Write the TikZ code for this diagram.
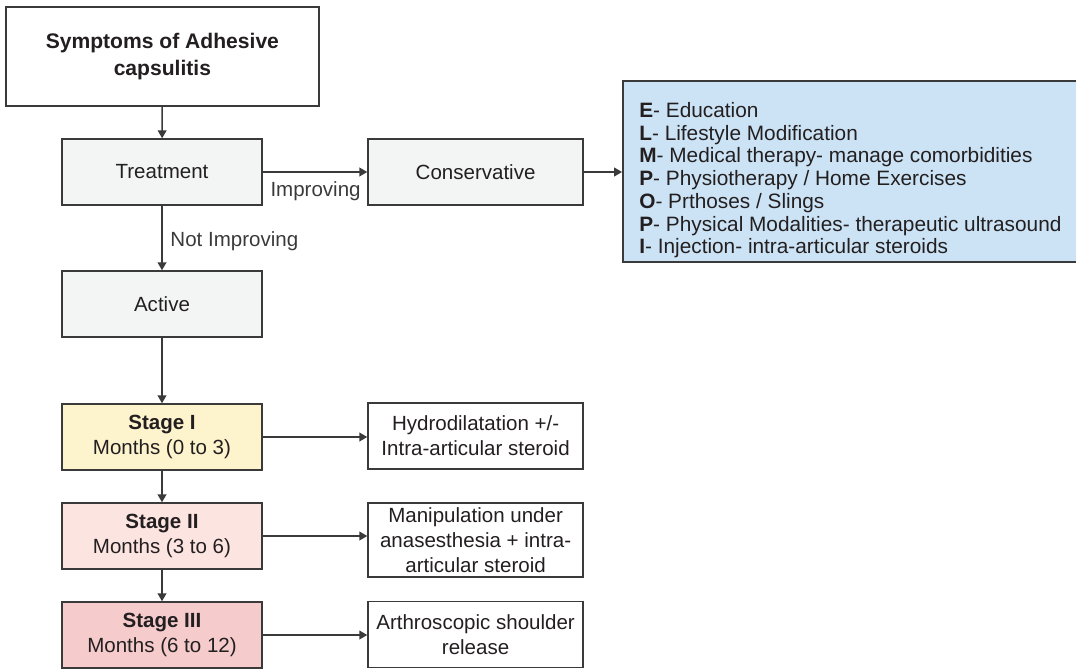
\documentclass[tikz,border=0pt]{standalone}
\usepackage{fontspec}
\setmainfont{Liberation Sans}
\usetikzlibrary{positioning, arrows.meta, calc}
\usepackage{xcolor}
\definecolor{fcink}{HTML}{231F20}
\definecolor{fcline}{HTML}{3A3A3A}
\definecolor{fcgray}{HTML}{F3F5F4}
\definecolor{fcyellow}{HTML}{FDF3CD}
\definecolor{fcpink}{HTML}{FCE4E0}
\definecolor{fcrose}{HTML}{F5CBCC}
\definecolor{fcblue}{HTML}{CCE3F5}

\begin{document}
\begin{tikzpicture}[font=\fontsize{14.6}{18}\selectfont, text=fcink,
    box/.style={draw=fcline, line width=1.05pt, fill=white, align=center, inner sep=2pt,
                minimum width=5cm, minimum height=1.65cm},
    opt/.style={box, minimum width=5.38cm},
    arr/.style={fcline, line width=1.05pt, -{Triangle[length=5.6pt, width=6.2pt]}}]
    \useasboundingbox (0,0) rectangle (26.9,16.7);
    % main column
    \node[box, minimum width=7.83cm, minimum height=2.48cm,
          font=\fontsize{15}{19}\selectfont\bfseries] (sym) at (4.06,15.29) {Symptoms of Adhesive\\capsulitis};
    \node[box, fill=fcgray] (trt) at (4.05,12.4)  {Treatment};
    \node[opt, fill=fcgray] (con) at (11.89,12.4) {Conservative};
    \node[box, fill=fcgray] (act) at (4.05,9.1)   {Active};
    \node[draw=fcline, line width=1.05pt, fill=fcblue, align=left, inner sep=2pt,
          minimum width=11.38cm, minimum height=4.53cm,
          font=\fontsize{14.8}{16.2}\selectfont] (epi) at (21.26,12.41)
      {\rule{0pt}{1.56em}\textbf{E}- Education\\
       \textbf{L}- Lifestyle Modification\\
       \textbf{M}- Medical therapy- manage comorbidities\\
       \textbf{P}- Physiotherapy / Home Exercises\\
       \textbf{O}- Prthoses / Slings\\
       \textbf{P}- Physical Modalities- therapeutic ultrasound\\
       \textbf{I}- Injection- intra-articular steroids};
    % stages and their procedures
    \node[box, fill=fcyellow] (s1) at (4.05,5.775) {\textbf{Stage I}\\Months (0 to 3)};
    \node[box, fill=fcpink]   (s2) at (4.05,3.3)   {\textbf{Stage II}\\Months (3 to 6)};
    \node[box, fill=fcrose]   (s3) at (4.05,0.825) {\textbf{Stage III}\\Months (6 to 12)};
    \node[opt] (hyd) at (11.89,5.8)  {Hydrodilatation +/-\\Intra-articular steroid};
    \node[opt, minimum height=1.85cm] (man) at (11.89,3.2)
      {Manipulation under\\anasesthesia + intra-\\articular steroid};
    \node[opt] (art) at (11.89,0.84) {Arthroscopic shoulder\\release};

    \draw[arr] (sym) -- (trt);
    \draw[arr] (trt.east) -- (trt.east -| con.west)
      node[pos=0, anchor=north west, inner xsep=5pt, inner ysep=6pt] {Improving};
    \draw[arr] (con.east) -- (con.east -| epi.west);
    \draw[arr] (trt) -- (act)
      node[midway, anchor=west, inner xsep=5.5pt, yshift=-2pt] {Not Improving};
    \draw[arr] (act) -- (s1);
    \draw[arr] (s1) -- (s2);
    \draw[arr] (s2) -- (s3);
    \draw[arr] (s1.east) -- (s1.east -| hyd.west);
    \draw[arr] (s2.east) -- (s2.east -| man.west);
    \draw[arr] (s3.east) -- (s3.east -| art.west);
\end{tikzpicture}
\end{document}
